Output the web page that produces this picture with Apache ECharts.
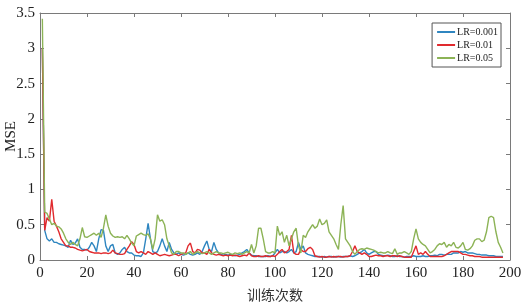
<!DOCTYPE html>
<html><head><meta charset="utf-8">
<script src="https://cdn.jsdelivr.net/npm/echarts@6/dist/echarts.min.js"></script>
<style>html,body{margin:0;padding:0;background:#fff}#c{width:524px;height:305px}</style>
</head><body><div id="c"></div>
<script>
const seriesNames = ['LR=0.001', 'LR=0.01', 'LR=0.05'];
const xTicks = [0, 20, 40, 60, 80, 100, 120, 140, 160, 180, 200];
const yTicks = [0, 0.5, 1, 1.5, 2, 2.5, 3, 3.5];
const lr0001 = [
3.0,0.42,0.3,0.27,0.3,0.25,0.25,0.23,0.22,0.21,
0.2,0.18,0.28,0.22,0.24,0.3,0.18,0.15,0.15,0.14,
0.18,0.25,0.2,0.12,0.3,0.43,0.42,0.2,0.12,0.2,
0.22,0.1,0.08,0.1,0.15,0.18,0.12,0.1,0.1,0.07,
0.06,0.06,0.05,0.1,0.3,0.52,0.3,0.12,0.1,0.12,
0.2,0.3,0.2,0.12,0.25,0.15,0.1,0.08,0.1,0.08,
0.07,0.08,0.1,0.08,0.07,0.08,0.1,0.08,0.12,0.2,
0.27,0.15,0.12,0.25,0.15,0.1,0.08,0.07,0.08,0.07,
0.08,0.07,0.06,0.07,0.08,0.1,0.12,0.15,0.1,0.07,
0.06,0.06,0.05,0.05,0.05,0.05,0.06,0.05,0.06,0.1,
0.15,0.1,0.12,0.12,0.1,0.12,0.15,0.1,0.12,0.25,
0.15,0.2,0.1,0.08,0.07,0.06,0.05,0.05,0.05,0.04,
0.05,0.04,0.05,0.05,0.04,0.05,0.05,0.04,0.05,0.05,
0.05,0.06,0.05,0.06,0.08,0.1,0.12,0.15,0.1,0.08,
0.1,0.12,0.12,0.08,0.07,0.06,0.06,0.07,0.06,0.05,
0.05,0.06,0.05,0.05,0.04,0.05,0.05,0.05,0.06,0.05,
0.05,0.05,0.06,0.05,0.05,0.06,0.06,0.07,0.06,0.08,
0.08,0.07,0.08,0.08,0.08,0.1,0.1,0.1,0.12,0.11,
0.12,0.1,0.1,0.1,0.09,0.08,0.08,0.07,0.07,0.07,
0.06,0.06,0.06,0.05,0.05,0.05,0.05];
const lr001 = [
3.0,0.42,0.6,0.55,0.86,0.55,0.48,0.4,0.3,0.25,
0.2,0.2,0.18,0.18,0.17,0.15,0.14,0.13,0.14,0.15,
0.12,0.11,0.1,0.1,0.1,0.09,0.1,0.1,0.09,0.1,
0.14,0.1,0.09,0.08,0.08,0.09,0.15,0.2,0.26,0.22,
0.12,0.1,0.12,0.1,0.08,0.12,0.1,0.08,0.1,0.08,
0.06,0.07,0.08,0.07,0.06,0.07,0.08,0.08,0.06,0.08,
0.09,0.1,0.2,0.24,0.12,0.1,0.15,0.14,0.1,0.1,
0.08,0.15,0.1,0.08,0.07,0.08,0.07,0.06,0.07,0.06,
0.07,0.06,0.07,0.06,0.05,0.06,0.07,0.06,0.1,0.06,
0.05,0.05,0.06,0.05,0.05,0.06,0.05,0.05,0.06,0.05,
0.08,0.12,0.15,0.1,0.12,0.15,0.35,0.1,0.08,0.08,
0.15,0.12,0.12,0.16,0.18,0.15,0.06,0.05,0.04,0.05,
0.04,0.04,0.05,0.04,0.05,0.04,0.05,0.05,0.04,0.05,
0.05,0.06,0.12,0.2,0.12,0.1,0.08,0.1,0.08,0.05,
0.05,0.06,0.07,0.06,0.06,0.05,0.06,0.06,0.05,0.06,
0.06,0.05,0.06,0.05,0.04,0.04,0.04,0.04,0.12,0.2,
0.08,0.1,0.08,0.12,0.08,0.05,0.05,0.05,0.05,0.05,
0.05,0.06,0.08,0.1,0.12,0.12,0.12,0.12,0.1,0.08,
0.08,0.07,0.06,0.06,0.05,0.05,0.05,0.04,0.04,0.04,
0.04,0.04,0.04,0.04,0.04,0.04,0.04];
const lr005 = [
3.42,0.68,0.66,0.58,0.5,0.52,0.48,0.47,0.44,0.38,
0.3,0.25,0.22,0.25,0.22,0.2,0.3,0.46,0.33,0.32,
0.34,0.36,0.38,0.35,0.38,0.32,0.45,0.64,0.48,0.38,
0.34,0.32,0.33,0.32,0.33,0.3,0.35,0.3,0.24,0.2,
0.34,0.36,0.38,0.36,0.35,0.37,0.3,0.15,0.3,0.64,
0.55,0.57,0.5,0.3,0.2,0.1,0.08,0.12,0.12,0.1,
0.1,0.08,0.1,0.12,0.08,0.1,0.12,0.1,0.09,0.1,
0.12,0.1,0.08,0.1,0.12,0.1,0.1,0.09,0.1,0.11,
0.09,0.08,0.1,0.09,0.1,0.08,0.1,0.12,0.1,0.22,
0.1,0.2,0.45,0.45,0.3,0.12,0.1,0.1,0.12,0.1,
0.48,0.35,0.4,0.25,0.35,0.2,0.3,0.4,0.45,0.2,
0.1,0.35,0.32,0.4,0.45,0.5,0.45,0.48,0.58,0.5,
0.52,0.57,0.4,0.35,0.3,0.22,0.15,0.5,0.77,0.3,
0.25,0.2,0.12,0.08,0.12,0.15,0.16,0.15,0.17,0.16,
0.15,0.14,0.12,0.1,0.11,0.1,0.1,0.12,0.1,0.09,
0.16,0.08,0.1,0.1,0.12,0.1,0.08,0.12,0.3,0.44,
0.3,0.25,0.22,0.2,0.15,0.1,0.12,0.15,0.2,0.23,
0.22,0.25,0.18,0.22,0.2,0.25,0.18,0.17,0.2,0.25,
0.15,0.14,0.16,0.2,0.28,0.3,0.3,0.26,0.28,0.4,
0.6,0.62,0.6,0.4,0.25,0.18,0.1];
const colors = ['#2f86c0', '#e02a2e', '#8cb356'];
const serif = '"Liberation Serif","DejaVu Serif",serif';

function pairs(arr) { return arr.map((v, i) => [i + 1, v]); }

const chart = echarts.init(document.getElementById('c'), null, {renderer: 'canvas'});
const axisLineStyle = {show: true, onZero: false, lineStyle: {color: '#7a7a7a', width: 1}};
const tickStyle = {show: true, inside: true, length: 4, lineStyle: {color: '#7a7a7a'}};
chart.setOption({
  animation: false,
  backgroundColor: '#fff',
  color: colors,
  grid: {left: 40, right: 14, top: 13, bottom: 45, containLabel: false, outerBoundsMode: 'none'},
  legend: {
    data: seriesNames, orient: 'vertical', right: 23, top: 23,
    icon: 'rect', itemWidth: 18, itemHeight: 2, itemGap: 3,
    borderColor: '#555', borderWidth: 1, padding: [4, 3, 4, 5],
    backgroundColor: '#fff',
    textStyle: {fontFamily: serif, fontSize: 10, color: '#222', padding: [0, 0, 0, -3]}
  },
  xAxis: [{
    type: 'value', min: xTicks[0], max: xTicks[xTicks.length - 1], interval: 20,
    name: '训练次数', nameLocation: 'middle', nameGap: 28, nameMoveOverlap: false,
    nameTextStyle: {fontFamily: '"Noto Sans CJK SC"', fontSize: 14, color: '#333'},
    axisLine: axisLineStyle, axisTick: tickStyle, splitLine: {show: false},
    axisLabel: {fontFamily: serif, fontSize: 15, color: '#222', margin: 6}
  }, {
    type: 'value', position: 'top', min: xTicks[0], max: xTicks[xTicks.length - 1], interval: 20,
    axisLine: axisLineStyle, axisTick: tickStyle, splitLine: {show: false},
    axisLabel: {show: false}
  }],
  yAxis: [{
    type: 'value', min: yTicks[0], max: yTicks[yTicks.length - 1], interval: 0.5,
    name: 'MSE', nameLocation: 'middle', nameGap: 21, nameMoveOverlap: false,
    nameTextStyle: {fontFamily: serif, fontSize: 15, color: '#222'},
    axisLine: axisLineStyle, axisTick: tickStyle, splitLine: {show: false},
    axisLabel: {fontFamily: serif, fontSize: 15, color: '#222', margin: 5}
  }, {
    type: 'value', position: 'right', min: yTicks[0], max: yTicks[yTicks.length - 1], interval: 0.5,
    axisLine: axisLineStyle, axisTick: tickStyle, splitLine: {show: false},
    axisLabel: {show: false}
  }],
  series: [
    {name: seriesNames[0], type: 'line', data: pairs(lr0001), showSymbol: false, lineStyle: {width: 1.4}},
    {name: seriesNames[1], type: 'line', data: pairs(lr001), showSymbol: false, lineStyle: {width: 1.4}},
    {name: seriesNames[2], type: 'line', data: pairs(lr005), showSymbol: false, lineStyle: {width: 1.4}}
  ]
});
</script></body></html>
